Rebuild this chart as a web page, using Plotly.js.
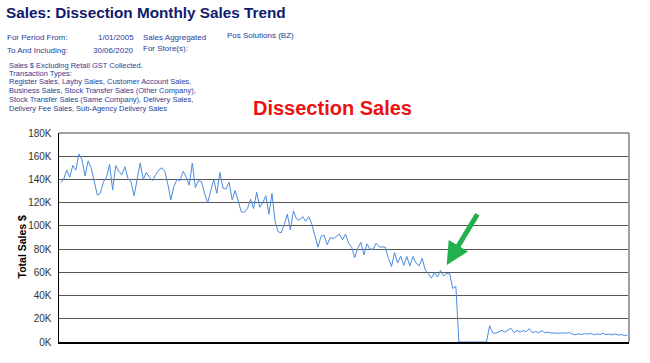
<!DOCTYPE html>
<html>
<head>
<meta charset="utf-8">
<script src="https://cdn.plot.ly/plotly-3.0.1.min.js"></script>
<style>
  html, body { margin: 0; padding: 0; background: #fff; }
  #chart { width: 650px; height: 363px; }
</style>
</head>
<body>
<div id="chart"></div>
<script>
// ---- Data (monthly total sales, thousands of $) ----
const startYear = 2005, startMonth = 1;   // 1/01/2005
const endYear = 2020, endMonth = 6;       // 30/06/2020

const sales2005_2007 = [
  137, 140, 148, 142, 152, 148, 162, 157, 143, 156, 150, 138,
  126.5, 128, 138, 142, 153, 131, 152, 147, 144, 151, 141, 138,
  126, 140, 154, 140, 146, 142, 139, 144, 148, 150, 147, 136
];
const sales2008_2010 = [
  122.5, 134, 140, 139, 147, 142, 135, 154, 133, 139, 138, 128,
  119.6, 130, 140, 128, 146, 132.6, 131.7, 137.7, 122.5, 130.5, 120, 112,
  111.6, 115, 123, 115, 129, 116, 120, 126, 110, 128, 104, 95
];
const sales2011_2013 = [
  94, 101, 110, 96.6, 113, 106, 105, 108, 104, 108, 101.5, 91,
  81.7, 91, 92, 83.6, 90, 89, 91, 93, 88, 93, 85, 81.7,
  72.7, 80.8, 85.7, 75, 84.5, 80, 80, 85, 82, 81.7, 81.7, 72
];
const sales2014_2016 = [
  65, 77, 68, 74, 66, 73.6, 65.5, 73.6, 68, 65.5, 72, 62,
  59, 55, 59.8, 56, 61.5, 57, 59, 58.7, 46, 48, 0, 0,
  0, 0, 0, 0, 0, 0, 0, 0, 14, 8, 7.5, 9
];
const sales2017_2020 = [
  10, 8.5, 10, 11.8, 8, 10, 8.5, 9.8, 9, 11.5, 8, 9,
  8, 9.8, 8, 8.5, 7.8, 7.5, 7.8, 7.5, 8, 7.6, 8.2, 6.8,
  6.2, 7, 6.5, 7.2, 6.8, 7.5, 6.2, 7, 6.5, 7.4, 6.4, 6.8,
  6.2, 7, 6, 6.4, 5.5, 6
];
const salesK = [].concat(sales2005_2007, sales2008_2010, sales2011_2013, sales2014_2016, sales2017_2020);

const yTickValues = [0, 20, 40, 60, 80, 100, 120, 140, 160, 180];
const yTickLabels = ['0K', '20K', '40K', '60K', '80K', '100K', '120K', '140K', '160K', '180K'];

// month category labels
const months = [];
for (let y = startYear, m = startMonth; y < endYear || (y === endYear && m <= endMonth); ) {
  months.push(y + '-' + String(m).padStart(2, '0'));
  m++; if (m > 12) { m = 1; y++; }
}

// ---- Layout helpers (pixel -> paper) ----
const L = 59, R = 629, T = 133, B = 342;
const W = 650, H = 363;
const px = x => (x - L) / (R - L);
const py = y => (B - y) / (B - T);

function info(text, x, y, anchor, size) {
  return { text: text, xref: 'paper', yref: 'paper', x: px(x), y: py(y),
           xanchor: anchor || 'left', yanchor: 'middle', showarrow: false,
           font: { family: 'Liberation Sans, Arial, sans-serif', size: size || 8, color: '#2b3c98' },
           borderpad: 0 };
}

const annotations = [
  { text: '<b>Sales: Dissection Monthly Sales Trend</b>', xref: 'paper', yref: 'paper',
    x: px(5), y: py(13), xanchor: 'left', yanchor: 'middle', showarrow: false, borderpad: 0,
    font: { family: 'Liberation Sans, Arial, sans-serif', size: 15.3, color: '#101a6e' } },
  info('For Period From:', 6, 37.5),
  info('1/01/2005', 135, 37.5, 'right'),
  info('Sales Aggregated', 142, 37.5),
  info('Pos Solutions (BZ)', 226, 36),
  info('To And Including:', 6, 50),
  info('30/06/2020', 135, 50, 'right'),
  info('For Store(s):', 142, 49),
  info('Sales $ Excluding Retail GST Collected.', 7.5, 65, 'left', 7.5),
  info('Transaction Types:', 7.5, 73, 'left', 7.5),
  info('Register Sales, Layby Sales, Customer Account Sales,', 7.5, 82, 'left', 7.5),
  info('Business Sales, Stock Transfer Sales (Other Company),', 7.5, 90.5, 'left', 7.5),
  info('Stock Transfer Sales (Same Company), Delivery Sales,', 7.5, 99.5, 'left', 7.5),
  info('Delivery Fee Sales, Sub-Agency Delivery Sales', 7.5, 108.5, 'left', 7.5),
  { text: '<b>Dissection Sales</b>', xref: 'paper', yref: 'paper',
    x: px(332.5), y: py(108), xanchor: 'center', yanchor: 'middle', showarrow: false, borderpad: 0,
    font: { family: 'Liberation Sans, Arial, sans-serif', size: 20, color: '#ee1111' } },
  { text: '<b>Total Sales $</b>', xref: 'paper', yref: 'paper',
    x: px(21), y: py(246.5), xanchor: 'center', yanchor: 'middle', textangle: -90,
    showarrow: false, borderpad: 0,
    font: { family: 'Liberation Sans, Arial, sans-serif', size: 10.5, color: '#000' } },
  { text: '', xref: 'paper', yref: 'paper', x: px(446.7), y: py(265),
    axref: 'pixel', ayref: 'pixel', ax: 31.6, ay: -52.3,
    showarrow: true, arrowhead: 2, arrowsize: 0.9, arrowwidth: 5,
    arrowcolor: '#22b14c', standoff: 0, startstandoff: 0 }
];

const trace = {
  type: 'scatter', mode: 'lines',
  x: months, y: salesK,
  line: { color: '#4a8be0', width: 1 },
  hoverinfo: 'skip'
};

const layout = {
  width: W, height: H,
  margin: { l: L, r: W - R, t: T, b: H - B, pad: 0 },
  paper_bgcolor: '#fff', plot_bgcolor: '#fff',
  showlegend: false,
  xaxis: {
    type: 'category', range: [-0.5, months.length - 0.5],
    showticklabels: false, ticks: '', showgrid: false, zeroline: false,
    showline: true, linecolor: '#000', linewidth: 1.5
  },
  yaxis: {
    range: [0, 180], tickvals: yTickValues, ticktext: yTickLabels,
    ticks: '', ticklabelstandoff: 4,
    tickfont: { family: 'Liberation Sans, Arial, sans-serif', size: 10, color: '#333' },
    showgrid: true, gridcolor: '#555', gridwidth: 1, zeroline: false,
    showline: true, linecolor: '#000', linewidth: 1.5
  },
  shapes: [
    { type: 'line', xref: 'paper', yref: 'paper', x0: 1, x1: 1, y0: 0, y1: 1,
      line: { color: '#a0a0a0', width: 2 } },
    { type: 'line', xref: 'paper', yref: 'paper', x0: 0, x1: 1, y0: 1, y1: 1,
      line: { color: '#444', width: 1 } }
  ],
  annotations: annotations
};

Plotly.newPlot('chart', [trace], layout, { staticPlot: true, displayModeBar: false });
</script>
</body>
</html>
